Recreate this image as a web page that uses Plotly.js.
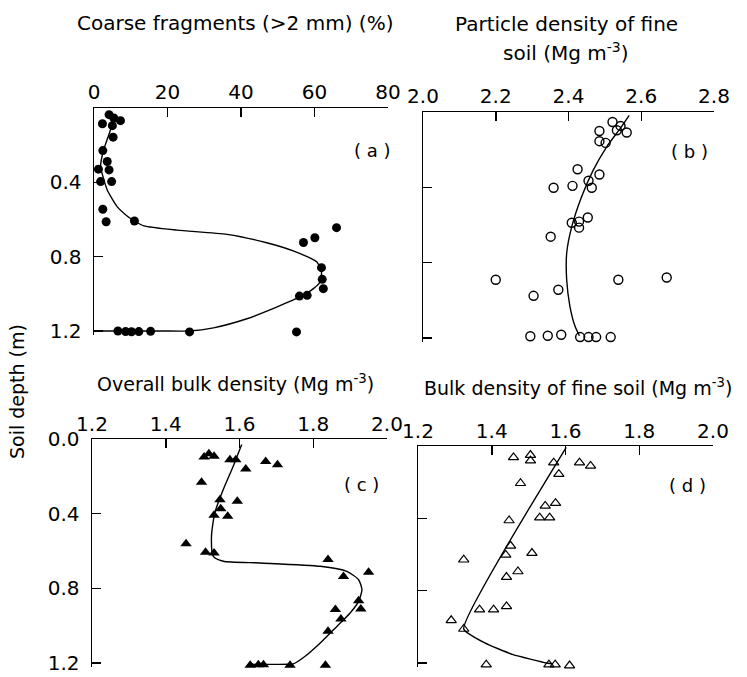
<!DOCTYPE html>
<html>
<head>
<meta charset="utf-8">
<script src="https://cdn.plot.ly/plotly-3.0.1.min.js"></script>
<style>html,body{margin:0;padding:0;background:#fff;}#chart{width:747px;height:677px;}</style>
</head>
<body>
<div id="chart"></div>
<script>
// Panel (a): coarse fragments (%) vs depth (m)
const aX = [4.1,5.4,7.2,2.3,5.0,5.2,2.4,3.6,1.2,4.1,1.8,4.8,2.4,3.3,11.0,66.0,60.1,57.0,61.9,62.1,62.4,55.9,58.0,55.1,6.5,8.6,10.2,12.2,15.4,26.0];
const aY = [0.036,0.054,0.068,0.085,0.095,0.157,0.229,0.288,0.329,0.333,0.396,0.396,0.545,0.612,0.608,0.644,0.698,0.724,0.859,0.922,0.972,1.012,1.008,1.205,1.2,1.203,1.204,1.203,1.202,1.205];
const aCurveX = [5.4,4.5,2.5,1.8,2.7,3.6,6.3,9.0,11.0,13.6,22.6,36.2,47.0,54.2,60.6,61.9,61.5,59.7,56.0,49.7,41.6,32.5,26.0,18.1,6.5,0];
const aCurveY = [0.063,0.117,0.234,0.315,0.387,0.441,0.531,0.581,0.608,0.634,0.657,0.680,0.725,0.769,0.828,0.882,0.936,0.972,1.017,1.071,1.134,1.183,1.2,1.2,1.2,1.2];

// Panel (b): particle density of fine soil
const bX = [2.521,2.543,2.533,2.560,2.485,2.485,2.502,2.425,2.485,2.455,2.359,2.411,2.464,2.453,2.409,2.429,2.429,2.351,2.200,2.537,2.670,2.372,2.304,2.295,2.343,2.380,2.432,2.455,2.476,2.516];
const bY = [0.053,0.074,0.097,0.109,0.101,0.155,0.164,0.304,0.332,0.365,0.402,0.392,0.402,0.560,0.588,0.582,0.614,0.662,0.891,0.891,0.879,0.944,0.976,1.191,1.188,1.183,1.195,1.195,1.195,1.195];
const bCurveX = [2.567,2.542,2.505,2.468,2.436,2.409,2.395,2.395,2.404,2.418,2.430];
const bCurveY = [0.018,0.088,0.185,0.309,0.450,0.609,0.750,0.891,1.033,1.138,1.188];

// Panel (c): overall bulk density
const cX = [1.504,1.517,1.531,1.574,1.590,1.671,1.703,1.617,1.497,1.547,1.594,1.549,1.531,1.568,1.455,1.508,1.531,1.840,1.950,1.882,1.923,1.929,1.860,1.875,1.840,1.833,1.629,1.651,1.665,1.737];
const cY = [0.096,0.079,0.093,0.111,0.111,0.120,0.138,0.161,0.232,0.325,0.334,0.373,0.409,0.414,0.561,0.607,0.611,0.646,0.714,0.736,0.866,0.911,0.914,0.964,1.030,1.212,1.212,1.210,1.210,1.212];
const cCurveX = [1.606,1.583,1.556,1.533,1.524,1.529,1.556,1.656,1.819,1.891,1.923,1.932,1.923,1.900,1.864,1.819,1.778,1.746,1.737,1.629];
const cCurveY = [0.030,0.146,0.271,0.396,0.521,0.629,0.655,0.664,0.682,0.709,0.754,0.807,0.870,0.932,1.004,1.093,1.164,1.205,1.207,1.207];

// Panel (d): bulk density of fine soil
const dX = [1.459,1.505,1.505,1.568,1.638,1.668,1.582,1.478,1.545,1.573,1.530,1.557,1.447,1.451,1.438,1.509,1.324,1.471,1.440,1.367,1.405,1.440,1.290,1.324,1.385,1.555,1.572,1.611];
const dY = [0.063,0.050,0.081,0.092,0.092,0.110,0.156,0.206,0.331,0.316,0.396,0.396,0.412,0.552,0.602,0.592,0.629,0.694,0.725,0.905,0.905,0.887,0.964,1.012,1.209,1.209,1.209,1.214];
const dCurveX = [1.602,1.324,1.381,1.458,1.548,1.565];
const dCurveY = [0.007,1.012,1.089,1.154,1.200,1.205];

const depthTicksA = [0.4, 0.8, 1.2];
const depthTicksC = [0, 0.4, 0.8, 1.2];
const depthLabelsA = ['0.4', '0.8', '1.2'];
const depthLabelsC = ['0.0', '0.4', '0.8', '1.2'];
const aTicks = [0, 20, 40, 60, 80];
const bTicks = [2.0, 2.2, 2.4, 2.6, 2.8];
const cdTicks = [1.2, 1.4, 1.6, 1.8, 2.0];

const FONT = 'DejaVu Sans, Arial, sans-serif';
const W = 747, H = 677;
const YMAX = 1.22;
function dx(a, b) { return [a / W, b / W]; }
// top: pixel of depth 0, bot12: pixel of depth 1.2 -> domain covers 0..YMAX
function dy(top, bot12) {
  const bot = top + (bot12 - top) * YMAX / 1.2;
  return [1 - bot / H, 1 - top / H];
}

function xax(domain, range, ticks, fmt, anchor, standoff) {
  return {
    domain: domain, range: range, side: 'top', anchor: anchor,
    showline: true, linecolor: '#000', linewidth: 1.5, mirror: false,
    ticks: 'inside', ticklen: 9, tickwidth: 1.5, tickcolor: '#000',
    tickvals: ticks, ticktext: ticks.map(v => v.toFixed(fmt)),
    tickfont: {family: FONT, size: 20, color: '#000'},
    ticklabelstandoff: standoff,
    showgrid: false, zeroline: false, fixedrange: true
  };
}
function yax(domain, ticks, labels, anchor) {
  const o = {
    domain: domain, range: [YMAX, 0], anchor: anchor,
    showline: true, linecolor: '#000', linewidth: 1.5,
    ticks: 'inside', ticklen: 9, tickwidth: 1.5, tickcolor: '#000',
    tickvals: ticks,
    tickfont: {family: FONT, size: 20, color: '#000'},
    showgrid: false, zeroline: false, fixedrange: true
  };
  if (labels) { o.ticktext = labels; o.showticklabels = true; o.ticklabelstandoff = 7; }
  else { o.showticklabels = false; }
  return o;
}

const lineStyle = {color: '#000', width: 1.4, shape: 'spline', smoothing: 0.6};
const traces = [
  {x: aCurveX, y: aCurveY, xaxis: 'x', yaxis: 'y', mode: 'lines', line: lineStyle, hoverinfo: 'skip'},
  {x: aX, y: aY, xaxis: 'x', yaxis: 'y', mode: 'markers', cliponaxis: false,
   marker: {symbol: 'circle', size: 9, color: '#000'}},
  {x: bCurveX, y: bCurveY, xaxis: 'x2', yaxis: 'y2', mode: 'lines', line: lineStyle, hoverinfo: 'skip'},
  {x: bX, y: bY, xaxis: 'x2', yaxis: 'y2', mode: 'markers', cliponaxis: false,
   marker: {symbol: 'circle-open', size: 9, color: '#000', line: {width: 1.4, color: '#000'}}},
  {x: cCurveX, y: cCurveY, xaxis: 'x3', yaxis: 'y3', mode: 'lines', line: lineStyle, hoverinfo: 'skip'},
  {x: cX, y: cY, xaxis: 'x3', yaxis: 'y3', mode: 'markers', cliponaxis: false,
   marker: {symbol: 'triangle-up', size: 10, color: '#000'}},
  {x: dCurveX, y: dCurveY, xaxis: 'x4', yaxis: 'y4', mode: 'lines', line: {color: '#000', width: 1.4, shape: 'spline', smoothing: 0.4}, hoverinfo: 'skip'},
  {x: dX, y: dY, xaxis: 'x4', yaxis: 'y4', mode: 'markers', cliponaxis: false,
   marker: {symbol: 'triangle-up-open', size: 9, color: '#000', line: {width: 1.2, color: '#000'}}}
];

const ann = (text, x, y, size, extra) => Object.assign({
  text: text, x: x, y: y, xref: 'paper', yref: 'paper', showarrow: false,
  xanchor: 'center', yanchor: 'middle', font: {family: FONT, size: size, color: '#000'}
}, extra || {});
const pl = (text, x, y, xr, yr) => ({text: text, x: x, y: y, xref: xr, yref: yr, showarrow: false,
  font: {family: FONT, size: 18, color: '#000'}});

const layout = {
  width: W, height: H, showlegend: false,
  paper_bgcolor: '#fff', plot_bgcolor: '#fff',
  margin: {l: 0, r: 0, t: 0, b: 0},
  xaxis:  xax(dx(94, 388), [0, 80], aTicks, 0, 'y', 0),
  yaxis:  yax(dy(108, 331), depthTicksA, depthLabelsA, 'x'),
  xaxis2: xax(dx(423, 714), [2.0, 2.8], bTicks, 1, 'y2', 0),
  yaxis2: yax(dy(112, 338), depthTicksC, null, 'x2'),
  xaxis3: xax(dx(92, 387), [1.2, 2.0], cdTicks, 1, 'y3', -1),
  yaxis3: yax(dy(439, 663), depthTicksC, depthLabelsC, 'x3'),
  xaxis4: xax(dx(418, 713), [1.2, 2.0], cdTicks, 1, 'y4', -1),
  yaxis4: yax(dy(446, 663), depthTicksC, null, 'x4'),
  annotations: [
    ann('Coarse fragments (&gt;2 mm) (%)', 235 / W, 1 - 23 / H, 20),
    ann('Particle density of fine', 566 / W, 1 - 24 / H, 20),
    ann('soil (Mg m<sup>-3</sup>)', 566 / W, 1 - 52 / H, 20),
    ann('Overall bulk density (Mg m<sup>-3</sup>)', 235 / W, 1 - 383 / H, 19),
    ann('Bulk density of fine soil (Mg m<sup>-3</sup>)', 578 / W, 1 - 387 / H, 19),
    ann('Soil depth (m)', 17 / W, 1 - 392 / H, 19, {textangle: -90}),
    pl('( a )', 75.9, 0.226, 'x', 'y'),
    pl('( b )', 2.734, 0.212, 'x2', 'y2'),
    pl('( c )', 1.932, 0.246, 'x3', 'y3'),
    pl('( d )', 1.932, 0.216, 'x4', 'y4')
  ]
};

Plotly.newPlot('chart', traces, layout, {staticPlot: true, displayModeBar: false});
</script>
</body>
</html>
